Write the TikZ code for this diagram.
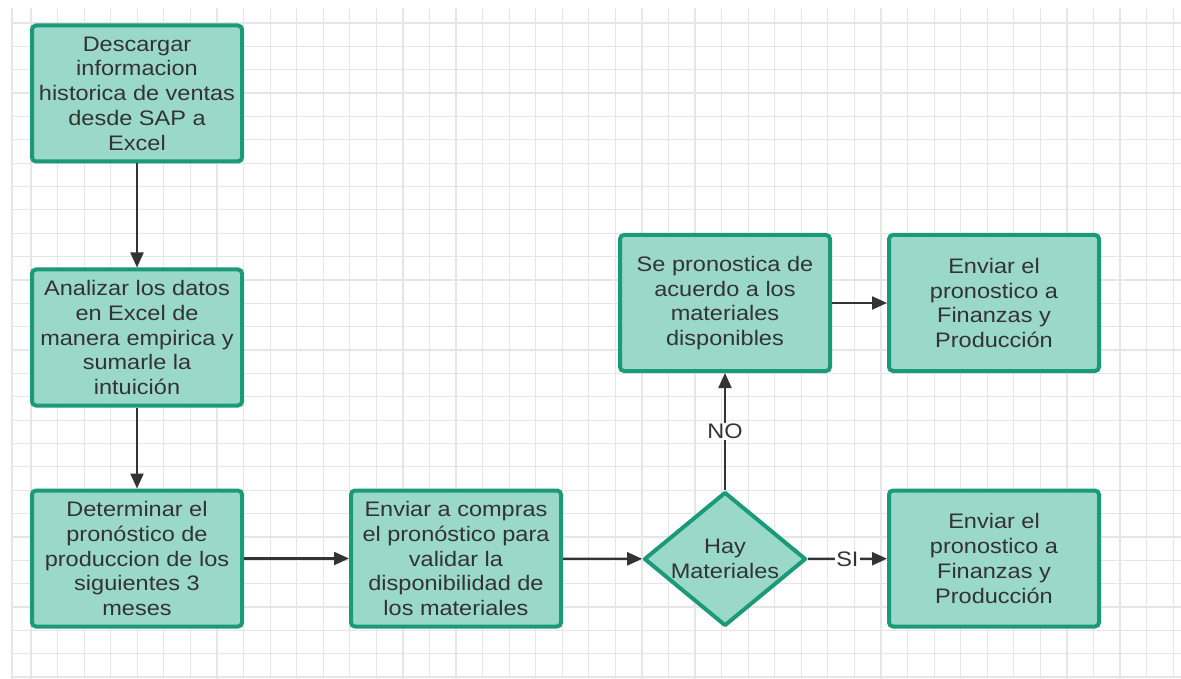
\documentclass[tikz,border=0pt]{standalone}
\usepackage{fontspec}
\setmainfont[FakeStretch=1.12]{Liberation Sans}
\usetikzlibrary{arrows.meta,shapes.geometric}
\definecolor{boxfill}{HTML}{9AD8CA}
\definecolor{boxline}{HTML}{1B9A7A}
\definecolor{ink}{HTML}{333333}
\definecolor{gridc}{HTML}{E6E6E6}
\begin{document}
\begin{tikzpicture}[x=1pt,y=-1pt,
  txt/.style={align=center, text=ink, font=\fontsize{21}{24.7}\selectfont},
  procbox/.style={txt, draw=boxline, fill=boxfill, line width=4pt,
    rounded corners=4pt, minimum width=210pt, minimum height=136pt, inner sep=0pt},
  decision/.style={diamond, draw=boxline, fill=boxfill, line width=4pt,
    line join=round, minimum width=162pt, minimum height=134pt, inner sep=0pt},
  conn/.style={draw=ink, line width=2.2pt, -{Triangle[length=15pt,width=13pt]}},
  edgelabel/.style={txt, fill=white, inner sep=1.5pt}]
\useasboundingbox (0,0) rectangle (1181,679);
\fill[white] (0,0) rectangle (1181,679);
% background grid
\foreach \k in {1,...,44}
  \draw[gridc, line width=1.2pt] ({4.5+26.56*\k},8) -- ({4.5+26.56*\k},679);
\draw[gridc, line width=1.2pt] (12,8) -- (12,679);
\foreach \k in {0,...,28}
  \draw[gridc, line width=1.2pt] (12,{23+23.36*\k}) -- (1181,{23+23.36*\k});

% process steps
\node[procbox] (a) at (137,93.5) {Descargar\\informacion\\historica de ventas\\desde SAP a\\Excel};
\node[procbox] (b) at (137,337.5) {Analizar los datos\\en Excel de\\manera empirica y\\sumarle la\\intuición};
\node[procbox] (c) at (137,558.5) {Determinar el\\pronóstico de\\produccion de los\\siguientes 3\\meses};
\node[procbox] (d) at (456,558.5) {Enviar a compras\\el pronóstico para\\validar la\\disponibilidad de\\los materiales};
\node[decision] (e) at (725,559) {};
\node[txt] (etext) at (e) {Hay\\Materiales};
\node[procbox] (f) at (725,303) {Se pronostica de\\acuerdo a los\\materiales\\disponibles};
\node[procbox] (g) at (994,303) {Enviar el\\pronostico a\\Finanzas y\\Producción};
\node[procbox] (h) at (994,558.5) {Enviar el\\pronostico a\\Finanzas y\\Producción};

% connectors
\draw[conn] (a) -- (b);
\draw[conn] (b) -- (c);
\draw[conn] (c) -- (d);
\draw[conn] (d) -- (e);
\draw[conn] (e) -- node[edgelabel] {SI} (h);
\draw[conn] (e) -- node[edgelabel] {NO} (f);
\draw[conn] (f) -- (g);
\end{tikzpicture}
\end{document}
